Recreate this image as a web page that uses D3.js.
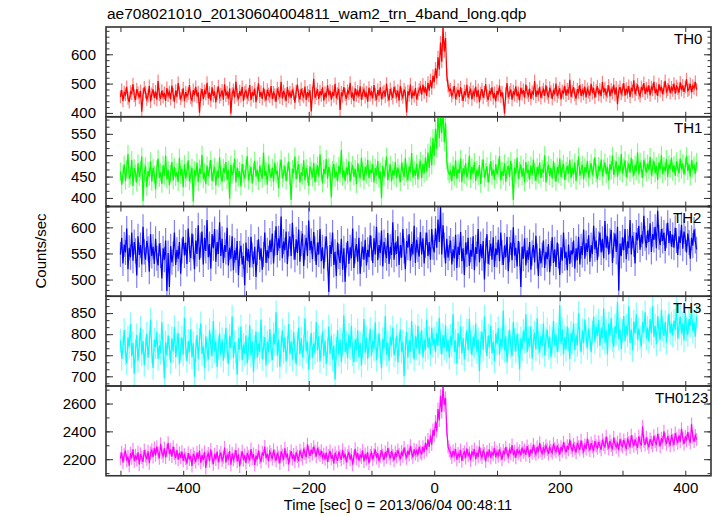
<!DOCTYPE html>
<html><head><meta charset="utf-8">
<script src="https://cdn.jsdelivr.net/npm/d3@7"></script>
<style>body{margin:0;background:#fff} text{font-family:"Liberation Sans",Arial,Helvetica,sans-serif;fill:#000}</style>
</head><body><svg id="c" width="717" height="516"></svg>
<script>
const title = "ae708021010_20130604004811_wam2_trn_4band_long.qdp";
const xLabel = "Time [sec] 0 = 2013/06/04 00:48:11";
const yLabel = "Counts/sec";
const bandNames = ["TH0","TH1","TH2","TH3","TH0123"];
const timeStart = -500, binWidth = 2;
const xDomain = [-523, 441];
const xTickValues = [-500,-400,-300,-200,-100,0,100,200,300,400];
const xLabelValues = [-400,-200,0,200,400];

const th0 = [
455,478,441,470,462,489,450,437,472,466,498,459,444,481,468,452,475,404,463,487,
470,446,458,492,439,465,480,451,473,445,509,462,448,476,455,468,441,485,459,471,
447,493,463,438,476,455,502,468,449,460,484,440,471,457,466,495,452,443,478,461,
489,456,470,401,462,481,447,475,464,503,450,469,442,487,458,473,436,466,491,454,
463,477,445,498,459,470,449,484,398,466,478,453,507,461,446,474,458,489,441,469,
476,452,463,495,444,471,458,483,437,467,501,455,472,448,486,460,443,479,464,456,
492,447,470,461,438,484,467,453,506,449,475,462,441,488,456,470,451,480,466,435,
473,497,458,446,482,463,455,490,444,471,459,477,405,468,516,452,465,481,448,474,
460,487,442,469,453,494,461,476,445,472,458,499,450,466,482,410,470,457,488,463,
448,475,466,503,452,469,441,484,460,473,456,491,445,467,479,454,470,438,486,462,
471,450,495,463,444,478,459,487,447,468,474,456,500,461,443,482,465,451,489,470,
457,476,442,492,464,453,480,468,402,474,460,497,449,471,458,485,446,466,479,488,
462,497,470,488,458,503,476,512,484,527,
505,552,518,590,548,640,575,690,610,655,530,492,476,
481,458,470,492,447,466,479,455,488,463,441,474,460,496,452,469,483,
446,472,461,490,455,478,437,467,481,452,470,498,459,444,476,463,487,450,468,439,
475,462,493,456,471,447,398,466,502,453,469,480,445,474,461,491,457,468,443,486,
464,478,452,497,470,459,483,448,472,465,509,455,476,462,489,451,470,481,458,494,
467,453,486,472,448,479,463,500,457,471,484,446,475,468,492,459,480,466,513,455,
474,488,462,449,481,470,496,458,477,465,490,453,482,471,459,499,468,485,452,476,
491,463,479,457,505,470,484,461,473,494,456,480,468,497,462,487,430,475,489,466,
478,501,459,483,470,492,455,486,474,511,463,480,497,468,458,489,476,502,465,484,
471,494,460,488,479,506,467,482,458,498,475,490,463,485,509,472,480,496,468,487,
477,500,466,491,483,469,504,478,494,472,488,515,476,481,499,470,493,484,506,479];

const th1 = [
462,431,455,478,440,467,503,445,452,489,428,470,458,436,481,449,465,497,393,459,
474,426,463,450,486,438,471,455,420,468,492,447,460,433,477,452,499,443,466,430,
457,484,441,472,449,461,437,494,453,468,425,479,446,462,488,439,455,471,392,465,
450,483,437,469,456,501,444,460,432,476,451,467,489,440,458,473,429,464,447,495,
453,438,470,459,484,442,466,398,478,455,461,492,436,471,448,463,427,480,457,445,
469,498,441,456,473,434,462,487,450,466,439,475,458,445,506,452,463,431,478,460,
447,471,438,483,455,464,423,469,490,446,457,475,440,462,485,451,395,468,458,497,
444,466,479,436,460,452,488,441,470,456,429,474,463,448,482,437,459,476,450,502,
461,434,468,455,491,445,472,458,402,466,480,447,462,439,475,457,512,449,465,440,
471,454,486,438,463,477,450,468,432,481,459,446,494,462,441,473,455,489,447,466,
458,479,436,470,453,487,445,462,400,475,450,468,497,442,460,478,439,465,452,484,
446,471,457,437,482,463,449,493,458,441,474,460,505,448,466,452,480,444,470,487,
447,480,458,495,462,506,470,521,476,540,
498,562,515,600,540,596,552,610,530,575,488,462,455,
462,439,476,451,488,445,467,458,492,437,470,455,481,448,463,499,444,
472,456,484,440,466,451,477,433,469,490,447,461,474,436,458,486,452,467,443,479,
455,470,498,441,463,452,481,438,466,475,449,487,460,395,471,456,494,445,464,478,
450,469,437,484,458,466,443,476,453,490,461,440,472,455,483,447,468,459,500,436,
464,478,451,470,445,486,460,438,473,456,492,449,467,480,442,463,475,457,489,446,
471,455,483,440,468,497,452,465,478,444,472,459,487,448,466,481,453,470,495,458,
444,475,462,490,451,469,483,456,473,441,479,465,499,454,468,486,450,476,462,503,
457,472,488,449,466,481,459,494,470,452,478,463,507,455,484,468,447,489,473,460,
480,465,496,453,471,487,458,475,442,483,467,500,456,474,462,491,449,479,468,494,
461,477,452,486,470,458,492,466,481,455,473,498,463,479,450,488,469,476,457,484];

const th2 = [
548,580,531,567,552,598,520,561,543,590,536,572,555,508,583,547,566,529,601,553,
538,574,559,515,587,545,563,530,578,541,527,569,546,502,560,538,575,478,551,486,
564,533,549,590,528,557,540,572,511,555,582,546,571,530,598,557,541,588,563,520,
575,549,604,538,566,592,529,580,555,614,543,568,521,587,560,597,534,572,549,610,
545,578,532,566,553,599,527,561,540,583,518,556,537,574,509,550,565,529,545,489,
571,536,558,523,582,547,530,563,505,552,577,538,560,519,548,590,532,556,541,575,
553,588,531,570,602,547,579,560,621,541,573,556,592,530,568,583,545,609,562,538,
577,551,596,534,569,588,526,562,580,545,613,556,574,539,591,559,528,571,548,597,
535,562,521,558,583,540,476,566,549,590,528,553,507,571,544,532,578,519,560,496,
547,574,530,562,541,598,522,555,568,534,580,511,549,563,538,576,527,557,543,585,
560,532,579,548,601,537,566,551,594,525,572,556,541,589,530,563,547,610,538,571,
549,583,528,566,542,597,555,520,574,561,587,536,568,548,603,532,576,557,544,591,
548,579,531,566,590,545,572,538,597,562,
552,598,561,615,572,640,548,604,566,531,578,542,560,
575,529,558,541,586,522,563,547,591,535,560,509,571,548,580,526,557,
544,583,518,562,549,597,533,568,541,574,500,556,587,530,552,569,538,581,524,560,
547,576,535,590,552,528,565,543,582,516,558,571,537,600,546,561,525,574,549,486,
563,540,579,527,556,538,572,519,551,566,533,584,545,507,560,531,547,575,522,553,
539,568,514,550,581,532,558,524,571,545,509,562,536,590,541,553,518,567,530,556,
548,575,521,560,537,582,529,564,547,596,540,570,553,585,534,566,549,603,558,575,
537,568,590,552,578,541,612,561,583,548,574,595,532,566,588,553,601,479,569,545,
581,556,597,539,573,560,614,548,584,567,531,590,575,603,557,586,569,622,579,561,
594,572,608,553,587,576,601,560,632,581,566,597,574,590,555,584,609,570,593,563,
586,561,599,575,547,583,570,605,559,592,578,552,588,571,540,580,565,596,574,558];

const th3 = [
785,742,768,810,755,731,792,770,824,748,779,706,761,798,737,773,815,752,784,727,
766,801,744,779,835,758,720,787,769,805,741,773,756,828,762,695,781,750,797,768,
733,790,759,817,746,774,803,728,765,792,751,839,770,736,784,757,812,745,779,699,
762,798,741,786,826,753,771,719,795,764,740,810,775,748,831,760,783,722,769,802,
751,788,737,772,815,760,729,796,767,842,744,781,756,704,790,763,818,738,775,753,
797,731,766,821,749,784,711,770,806,745,778,758,835,741,769,793,726,782,757,812,
764,739,801,776,852,749,787,722,770,809,758,794,735,768,824,752,783,740,805,761,
728,779,815,753,790,746,770,838,759,782,716,767,803,744,778,756,829,762,795,735,
771,806,748,785,729,762,818,753,797,740,773,692,766,810,751,788,734,776,845,758,
781,743,799,767,820,752,734,788,762,809,745,779,726,771,836,756,792,741,774,813,
748,785,764,828,739,771,802,757,719,789,766,843,752,780,737,794,773,816,750,764,
797,733,776,811,758,782,700,768,805,744,786,759,831,771,740,795,766,820,753,779,
809,745,787,762,834,768,792,751,816,774,
790,757,803,772,839,781,752,798,767,821,760,786,744,
796,773,847,758,785,730,803,769,818,754,791,740,776,809,762,836,781,
750,794,771,825,757,788,712,779,806,763,842,784,748,797,769,820,755,782,736,801,
777,814,752,789,768,856,761,795,733,780,811,770,748,829,786,759,801,774,716,790,
765,808,783,847,757,791,770,819,742,784,803,764,838,779,756,796,772,825,750,788,
811,768,794,746,780,832,773,799,758,786,869,776,812,752,793,764,818,787,741,803,
781,826,762,798,774,850,788,757,809,779,835,794,768,813,790,757,804,842,781,818,
796,833,772,815,791,861,780,809,752,825,797,838,786,770,819,803,876,789,812,765,
808,843,784,820,797,866,779,811,762,830,801,847,787,813,793,771,828,805,852,790,
815,783,836,802,866,794,820,776,843,809,787,858,812,796,829,780,818,849,803,825,
797,832,810,871,789,818,841,802,826,785,853,812,798,836,820,861,807,829,794,842];

const th0123 = [
2205,2248,2176,2231,2262,2190,2219,2154,2243,2207,2271,2186,2228,2195,2250,2163,2238,2212,2181,2266,
2224,2199,2257,2172,2245,2265,2216,2281,2228,2290,2244,2207,2311,2246,2222,2280,2213,2262,2318,2236,
2271,2219,2290,2241,2208,2266,2196,2245,2210,2254,2188,2231,2205,2169,2244,2198,2226,2152,2239,2213,
2180,2247,2203,2261,2174,2229,2195,2252,2137,2218,2240,2186,2270,2209,2164,2236,2198,2255,2177,2222,
2248,2191,2214,2283,2176,2230,2206,2259,2160,2241,2197,2222,2266,2183,2235,2148,2211,2256,2193,2229,
2171,2245,2218,2190,2273,2204,2237,2159,2226,2198,2261,2213,2180,2249,2225,2291,2207,2238,2186,2255,
2233,2201,2268,2222,2189,2247,2216,2170,2256,2228,2195,2279,2211,2240,2163,2221,2258,2202,2234,2182,
2250,2219,2187,2264,2230,2206,2276,2241,2215,2307,2252,2223,2269,2238,2290,2257,2218,2281,2244,2226,
2261,2212,2236,2199,2248,2181,2227,2259,2203,2230,2168,2246,2215,2188,2254,2221,2196,2267,2208,2239,
2177,2224,2253,2197,2234,2160,2218,2275,2206,2243,2189,2229,2212,2262,2184,2237,2201,2250,2169,2226,
2247,2198,2232,2271,2209,2244,2186,2219,2263,2228,2195,2252,2214,2280,2236,2205,2258,2227,2191,2249,
2217,2266,2233,2199,2255,2222,2284,2240,2207,2261,2230,2296,2245,2214,2270,2238,2262,2227,2289,2251,
2238,2290,2251,2318,2266,2342,2289,2371,2305,2410,
2368,2470,2402,2560,2478,2655,2540,2722,2590,2640,2410,2290,2262,
2246,2213,2259,2230,2272,2196,2241,2220,2265,2187,2234,2252,2208,2277,2225,2244,2192,
2256,2229,2273,2201,2248,2217,2290,2236,2212,2263,2240,2184,2255,2226,2269,2209,2247,2232,2281,2215,
2251,2224,2270,2238,2197,2262,2233,2286,2245,2219,2267,2240,2302,2228,2256,2211,2274,2243,2260,2227,
2283,2248,2265,2231,2294,2257,2219,2271,2244,2305,2259,2236,2288,2250,2318,2262,2241,2279,2253,2296,
2270,2238,2287,2262,2245,2311,2274,2253,2298,2266,2233,2290,2257,2322,2279,2249,2296,2268,2341,2284,
2262,2305,2277,2248,2319,2290,2266,2335,2283,2257,2302,2274,2348,2295,2263,2316,2289,2258,2330,2297,
2279,2325,2294,2268,2340,2306,2283,2362,2312,2276,2331,2298,2270,2355,2309,2287,2321,2264,2345,2303,
2290,2338,2306,2272,2350,2318,2285,2371,2326,2294,2343,2310,2281,2364,2322,2299,2436,2330,2302,2357,
2314,2286,2345,2319,2296,2368,2328,2303,2382,2337,2292,2351,2320,2401,2342,2308,2366,2331,2297,2375,
2336,2302,2388,2347,2315,2372,2325,2418,2351,2310,2363,2333,2394,2346,2318,2452,2359,2327,2370,2341];

const bandErrors = [22, 21, 24, 28, 47];
const yDomains = [[387,693],[380,590],[468,640],[677,890],[2081,2726]];
const yTickValues = [[400,500,600],[400,450,500,550],[500,550,600],[700,750,800,850],[2200,2400,2600]];
const yMinorSteps = [20, 50/3, 10, 50/3, 100];

// ---- layout & style ----
const series = [th0, th1, th2, th3, th0123];
const colors = ["#ff0000","#00ff00","#0000ff","#00ffff","#ff00ff"];
const labelX = [674, 674, 673, 673, 655];
const L = 106, R = 711, T = 27, PH = 89.75;
const frameColor = "#333";

const svg = d3.select("#c");
const x = d3.scaleLinear().domain(xDomain).range([L, R]);

svg.append("text").attr("x", 107).attr("y", 19).attr("font-size", 15.5).text(title);

series.forEach((vals, k) => {
  const top = T + k * PH, bot = top + PH;
  const y = d3.scaleLinear().domain(yDomains[k]).range([bot, top]);
  const clipId = "clip" + k;
  svg.append("clipPath").attr("id", clipId).append("rect")
    .attr("x", L).attr("y", top).attr("width", R - L).attr("height", PH);
  const pts = vals.map((v, i) => ({ t: timeStart + i * binWidth, v }));
  const g = svg.append("g").attr("clip-path", `url(#${clipId})`);
  const e = bandErrors[k];
  g.selectAll("line.err").data(pts).join("line").attr("class", "err")
    .attr("x1", d => x(d.t)).attr("x2", d => x(d.t))
    .attr("y1", d => y(d.v - e)).attr("y2", d => y(d.v + e))
    .attr("stroke", colors[k]).attr("stroke-opacity", 0.5).attr("stroke-width", 1.2);
  g.append("path").datum(pts)
    .attr("d", d3.line().x(d => x(d.t)).y(d => y(d.v)))
    .attr("fill", "none").attr("stroke", colors[k]).attr("stroke-width", 1.25);

  const ax = svg.append("g").attr("class", "axes");
  const [d0, d1] = yDomains[k];
  const base = yTickValues[k][0], st = yMinorSteps[k];
  const minor = [];
  for (let n = Math.ceil((d0 - base) / st - 1e-9); base + n * st <= d1; n++) minor.push(base + n * st);

  ax.append("g").attr("transform", `translate(${L},0)`)
    .call(d3.axisLeft(y).tickValues(minor).tickSize(-3.5).tickFormat(""));
  ax.append("g").attr("transform", `translate(${L},0)`)
    .call(d3.axisLeft(y).tickValues(yTickValues[k]).tickSize(-7).tickPadding(10).tickFormat(d3.format("d")));
  ax.append("g").attr("transform", `translate(${R},0)`)
    .call(d3.axisRight(y).tickValues(minor).tickSize(-3.5).tickFormat(""));
  ax.append("g").attr("transform", `translate(${R},0)`)
    .call(d3.axisRight(y).tickValues(yTickValues[k]).tickSize(-7).tickFormat(""));
  ax.append("g").attr("transform", `translate(0,${top})`)
    .call(d3.axisBottom(x).tickValues(xTickValues).tickSize(5).tickFormat(""));
  if (k < series.length - 1) {
    ax.append("g").attr("transform", `translate(0,${bot})`)
      .call(d3.axisTop(x).tickValues(xTickValues).tickSize(5).tickFormat(""));
  } else {
    ax.append("g").attr("transform", `translate(0,${bot})`)
      .call(d3.axisBottom(x).tickValues(xTickValues).tickSize(-5).tickPadding(7)
        .tickFormat(d => xLabelValues.includes(d) ? d3.format("d")(d) : ""));
  }
  svg.append("rect").attr("x", L).attr("y", top).attr("width", R - L).attr("height", PH)
    .attr("fill", "none").attr("stroke", frameColor).attr("stroke-width", 1.6);
  svg.append("text").attr("x", labelX[k]).attr("y", top + 16.5).attr("font-size", 15).text(bandNames[k]);
});

svg.selectAll(".axes path.domain").remove();
svg.selectAll(".axes line").attr("stroke", frameColor);
svg.selectAll(".axes text").attr("font-size", 15).attr("font-family", '"Liberation Sans",Arial,sans-serif').attr("fill", "#000");

svg.append("text").attr("x", 398).attr("y", 510).attr("text-anchor", "middle").attr("font-size", 14.6).text(xLabel);
svg.append("text").attr("transform", "translate(46,251) rotate(-90)").attr("text-anchor", "middle")
  .attr("font-size", 15).text(yLabel);
</script></body></html>
